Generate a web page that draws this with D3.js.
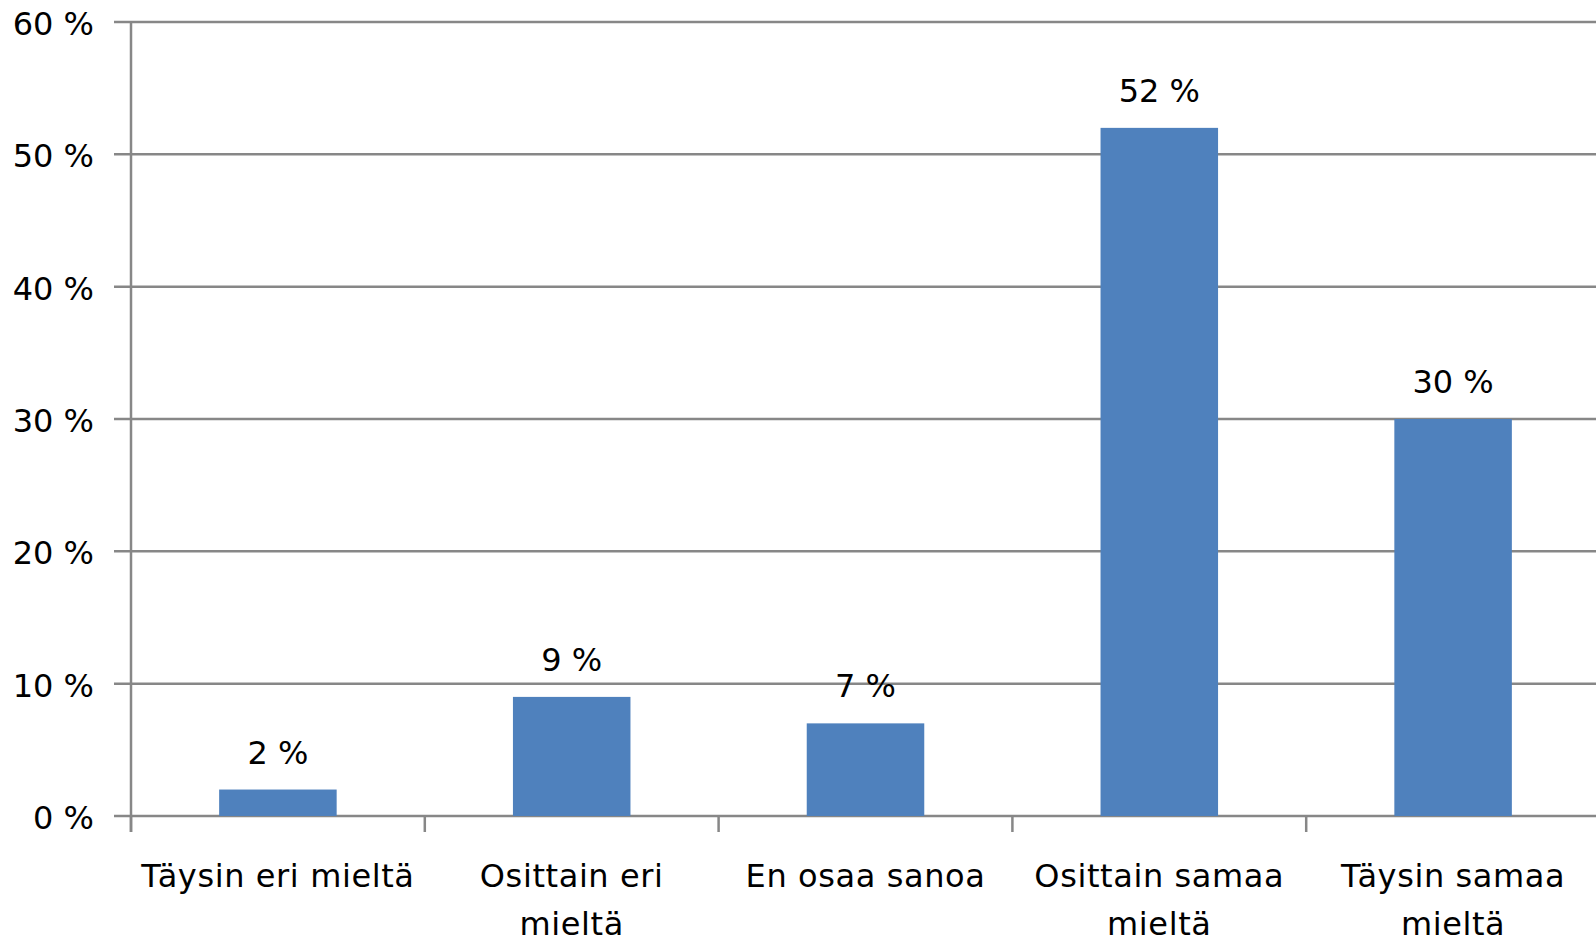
<!DOCTYPE html>
<html>
<head>
<meta charset="utf-8">
<script src="https://cdn.jsdelivr.net/npm/d3@7"></script>
<style>
    html, body {margin: 0; padding: 0; background: #fff;}
    svg {display: block;}
    text {font-family: "DejaVu Sans", Verdana, sans-serif; font-size: 32px; fill: #000;}
    .grid line, .axis line, .axis path {stroke: #878787; stroke-width: 2.5;}
    .bar {fill: #4f81bd;}
    .cat-label {letter-spacing: 0.6px;}
</style>
</head>
<body>
<svg id="chart" width="1596" height="938"></svg>
<script>
var categories = ["Täysin eri mieltä", "Osittain eri mieltä", "En osaa sanoa", "Osittain samaa mieltä", "Täysin samaa mieltä"];
var values = [2, 9, 7, 52, 30];
var yTicks = [0, 10, 20, 30, 40, 50, 60];

var svg = d3.select("#chart")
    , margin = {top: 22, right: -4, bottom: 122, left: 131}
    , width = +svg.attr("width") - margin.left - margin.right
    , height = +svg.attr("height") - margin.top - margin.bottom
    , g = svg.append("g").attr("transform", "translate(" + margin.left + "," + margin.top + ")")
    ;

var x = d3.scaleBand()
    .domain(categories)
    .range([0, width])
    .paddingInner(0.6)
    .paddingOuter(0.3);

var y = d3.scaleLinear()
    .domain([0, 60])
    .range([height, 0]);

var pct = function(v) { return v + " %"; };

// gridlines (left tick stub + line across)
g.append("g")
    .attr("class", "grid")
    .selectAll("line")
    .data(yTicks)
    .enter().append("line")
    .attr("x1", -17)
    .attr("x2", width)
    .attr("y1", function(d) { return y(d); })
    .attr("y2", function(d) { return y(d); });

// y labels
g.append("g")
    .selectAll("text")
    .data(yTicks)
    .enter().append("text")
    .attr("x", -37)
    .attr("y", function(d) { return y(d) + 13; })
    .attr("text-anchor", "end")
    .text(pct);

// category boundary ticks
var step = x.step();
g.append("g")
    .attr("class", "axis")
    .selectAll("line")
    .data(d3.range(categories.length))
    .enter().append("line")
    .attr("x1", function(i) { return x(categories[i]) - step * x.paddingOuter(); })
    .attr("x2", function(i) { return x(categories[i]) - step * x.paddingOuter(); })
    .attr("y1", height)
    .attr("y2", height + 16);

// vertical axis
g.append("g")
    .attr("class", "axis")
    .append("line")
    .attr("x1", 0)
    .attr("x2", 0)
    .attr("y1", 0)
    .attr("y2", height + 16);

g.selectAll(".bar")
    .data(values)
    .enter().append("rect")
    .attr("class", "bar")
    .attr("x", function(d, i) { return x(categories[i]); })
    .attr("width", x.bandwidth())
    .attr("y", function(d) { return y(d); })
    .attr("height", function(d) { return height - y(d); });

g.selectAll(".val")
    .data(values)
    .enter().append("text")
    .attr("class", "val")
    .attr("text-anchor", "middle")
    .attr("x", function(d, i) { return x(categories[i]) + x.bandwidth() / 2; })
    .attr("y", function(d) { return y(d) - 26; })
    .text(pct);

var catText = g.selectAll(".cat-label")
    .data(categories)
    .enter().append("text")
    .attr("class", "cat-label")
    .attr("text-anchor", "middle")
    .attr("x", function(d) { return x(d) + x.bandwidth() / 2; })
    .attr("y", height + 70.5);

catText.each(function(d) {
    wrap(d3.select(this), d, 282);
});

function wrap(text, str, maxW) {
    var words = str.split(" ")
        , line = []
        , lineNo = 0
        , cx = text.attr("x")
        , tspan = text.append("tspan").attr("x", cx).attr("dy", 0)
        ;
    words.forEach(function(w) {
        line.push(w);
        tspan.text(line.join(" "));
        if (tspan.node().getComputedTextLength() > maxW && line.length > 1) {
            line.pop();
            tspan.text(line.join(" "));
            line = [w];
            lineNo++;
            tspan = text.append("tspan").attr("x", cx).attr("dy", 48).text(w);
        }
    });
}
</script>
</body>
</html>
